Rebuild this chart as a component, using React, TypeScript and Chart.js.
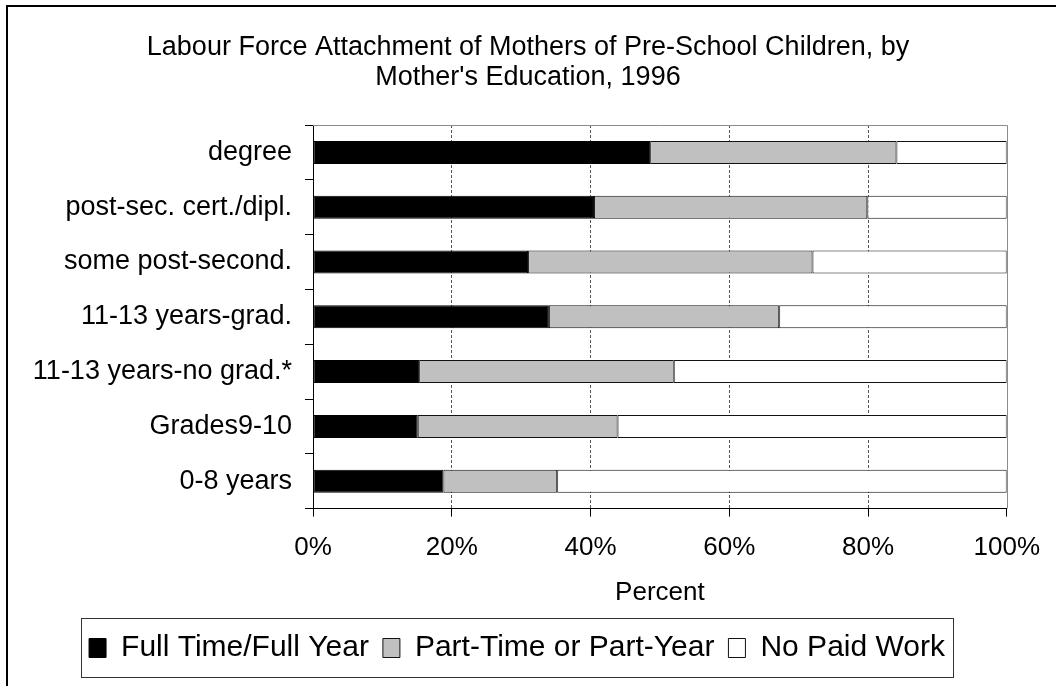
import React, { useEffect, useRef } from 'react';
import { Chart, registerables } from 'chart.js';

Chart.register(...registerables);

const categories = [
  'degree',
  'post-sec. cert./dipl.',
  'some post-second.',
  '11-13 years-grad.',
  '11-13 years-no grad.*',
  'Grades9-10',
  '0-8 years',
];
const fullTimeFullYear = [48.6, 40.5, 31.0, 34.0, 15.3, 15.1, 18.8];
const partTimeOrPartYear = [35.5, 39.4, 41.0, 33.2, 36.7, 28.8, 16.4];
const noPaidWork = [15.9, 20.1, 28.0, 32.8, 48.0, 56.1, 64.8];
const seriesNames = ['Full Time/Full Year', 'Part-Time or Part-Year', 'No Paid Work'];
const titleLines = [
  'Labour Force Attachment of Mothers of Pre-School Children, by',
  "Mother's Education, 1996",
];
const xAxisTitle = 'Percent';
const xTickStep = 20;

const FONT = "'Liberation Sans', Arial, Helvetica, sans-serif";

const framePlugin = {
  id: 'frame',
  afterLayout(chart: any) {
    // centre the two-line title over the whole page as in the original
    const tb = chart.titleBlock;
    if (tb) {
      tb.left += 11;
      tb.right += 11;
    }
  },
  beforeDraw(chart: any) {
    const ctx = chart.ctx;
    ctx.save();
    ctx.fillStyle = '#ffffff';
    ctx.fillRect(0, 0, chart.width, chart.height);
    ctx.strokeStyle = '#000000';
    ctx.lineWidth = 2;
    ctx.beginPath();
    ctx.moveTo(7, chart.height);
    ctx.lineTo(7, 6);
    ctx.lineTo(chart.width, 6);
    ctx.stroke();
    ctx.restore();
  },
  beforeDatasetsDraw(chart: any) {
    const { left, top, right, bottom } = chart.chartArea;
    const ctx = chart.ctx;
    ctx.save();
    ctx.strokeStyle = '#8c8c8c';
    ctx.lineWidth = 1;
    ctx.beginPath();
    ctx.moveTo(left, Math.round(top) + 0.5);
    ctx.lineTo(Math.round(right) + 0.5, Math.round(top) + 0.5);
    ctx.lineTo(Math.round(right) + 0.5, bottom);
    ctx.stroke();
    ctx.restore();
  },
  afterDraw(chart: any) {
    const legend = chart.legend;
    if (!legend || !legend.legendHitBoxes || !legend.legendHitBoxes.length) return;
    const hb = legend.legendHitBoxes;
    const first = hb[0];
    const last = hb[hb.length - 1];
    const cy = first.top + first.height / 2;
    const x1 = Math.round(first.left - 8) + 0.5;
    const x2 = Math.round(last.left + last.width + 8) + 0.5;
    const y1 = Math.round(cy - 30) + 0.5;
    const y2 = Math.round(cy + 29) + 0.5;
    const ctx = chart.ctx;
    ctx.save();
    ctx.strokeStyle = '#333333';
    ctx.lineWidth = 1;
    ctx.strokeRect(x1, y1, x2 - x1, y2 - y1);
    ctx.restore();
  },
};

export default function App() {
  const canvasRef = useRef<HTMLCanvasElement | null>(null);

  useEffect(() => {
    const canvas = canvasRef.current;
    if (!canvas) return;
    const chart = new Chart(canvas, {
      type: 'bar',
      data: {
        labels: categories,
        datasets: [
          {
            label: seriesNames[0],
            data: fullTimeFullYear,
            backgroundColor: '#000000',
            borderColor: '#000000',
            borderWidth: 1,
            borderSkipped: false,
          },
          {
            label: seriesNames[1],
            data: partTimeOrPartYear,
            backgroundColor: '#c0c0c0',
            borderColor: '#111111',
            borderWidth: 1,
            borderSkipped: false,
          },
          {
            label: seriesNames[2],
            data: noPaidWork,
            backgroundColor: '#ffffff',
            borderColor: '#111111',
            borderWidth: 1,
            borderSkipped: false,
          },
        ],
      },
      options: {
        indexAxis: 'y',
        responsive: false,
        animation: false,
        events: [],
        barPercentage: 0.42,
        categoryPercentage: 1,
        layout: { padding: { top: 0, left: 20, right: 42, bottom: 13 } },
        scales: {
          x: {
            type: 'linear',
            stacked: true,
            min: 0,
            max: 100,
            ticks: {
              stepSize: xTickStep,
              padding: 16,
              color: '#000000',
              font: { family: FONT, size: 26, lineHeight: 1.2 },
              callback: (v: any) => v + '%',
            },
            grid: {
              display: true,
              drawOnChartArea: true,
              drawTicks: true,
              tickLength: 8,
              tickColor: '#000000',
              tickWidth: 1,
              lineWidth: 1,
              color: (c: any) =>
                c.tick && c.tick.value > 0 && c.tick.value < 100 ? '#555555' : 'rgba(0,0,0,0)',
            },
            border: { display: true, color: '#000000', width: 1, dash: [3, 2] },
            title: {
              display: true,
              text: xAxisTitle,
              color: '#000000',
              font: { family: FONT, size: 26, lineHeight: 1.2 },
              padding: { top: -3, bottom: 11 },
            },
          },
          y: {
            type: 'category',
            stacked: true,
            afterFit: (scale: any) => {
              scale.width = 293;
            },
            ticks: {
              padding: 13,
              color: '#000000',
              font: { family: FONT, size: 27, lineHeight: 1.2 },
              autoSkip: false,
            },
            grid: {
              display: true,
              offset: true,
              drawOnChartArea: false,
              drawTicks: true,
              tickLength: 8,
              tickColor: '#000000',
              color: '#000000',
            },
            border: { display: true, color: '#000000', width: 1 },
          },
        },
        plugins: {
          title: {
            display: true,
            text: titleLines,
            color: '#000000',
            font: { family: FONT, size: 27, weight: 'normal', lineHeight: 30 / 27 },
            padding: { top: 33, bottom: 32 },
          },
          legend: {
            display: true,
            position: 'bottom',
            labels: {
              color: '#000000',
              font: { family: FONT, size: 30 },
              boxWidth: 17,
              boxHeight: 19,
              padding: 14,
            },
          },
          tooltip: { enabled: false },
        },
      },
      plugins: [framePlugin],
    } as any);
    return () => {
      chart.destroy();
    };
  }, []);

  return (
    <div style={{ position: 'fixed', left: 0, top: 0, width: 1056, height: 686, background: '#fff' }}>
      <canvas ref={canvasRef} width={1056} height={686} style={{ display: 'block' }} />
    </div>
  );
}
